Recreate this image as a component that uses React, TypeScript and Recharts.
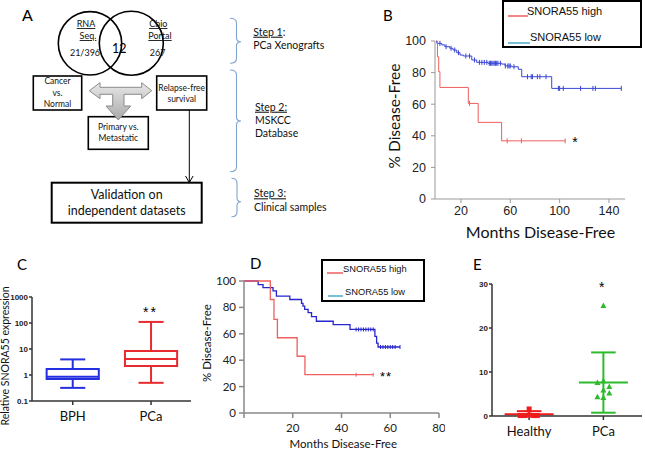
import {
  ComposedChart,
  Line,
  Scatter,
  XAxis,
  YAxis,
  ReferenceLine,
  ReferenceArea,
  Legend,
} from 'recharts';

const LATO = 'Lato, "Open Sans", sans-serif';
const ARIAL = '"Liberation Sans", Arial, sans-serif';

// ---- panel B: MSKCC database, % disease-free by months
const bHigh = [
  { t: 0, v: 100 }, { t: 1, v: 90 }, { t: 2, v: 80.6 }, { t: 3, v: 70.6 },
  { t: 26, v: 60.5 }, { t: 34, v: 48.5 }, { t: 53, v: 36.8 }, { t: 104.5, v: 36.8 },
];
const bHighCensor = [
  { t: 27, v: 60.5 }, { t: 57.5, v: 36.8 }, { t: 69, v: 36.8 }, { t: 104.5, v: 36.8 },
];
const bLow = [
  { t: 0, v: 100 }, { t: 0.5, v: 98.5 }, { t: 4.5, v: 97.5 }, { t: 7, v: 96.4 },
  { t: 11, v: 95.4 }, { t: 13.6, v: 94.3 }, { t: 16.6, v: 92.6 }, { t: 19.3, v: 91.1 },
  { t: 22, v: 90.5 }, { t: 28.8, v: 88 }, { t: 32.8, v: 86.5 }, { t: 42, v: 85.9 },
  { t: 53, v: 85.4 }, { t: 55.8, v: 84.2 }, { t: 61.2, v: 83.7 }, { t: 66.5, v: 82.1 },
  { t: 69.3, v: 77.4 }, { t: 93.6, v: 70 }, { t: 150, v: 70 },
];
const bLowCensor = [
  { t: 3, v: 98.5 }, { t: 8, v: 96.4 }, { t: 12, v: 95.4 }, { t: 15, v: 94.3 },
  { t: 18, v: 92.6 }, { t: 24, v: 90.5 }, { t: 27, v: 90.5 }, { t: 31, v: 88 },
  { t: 35, v: 86.5 }, { t: 37, v: 86.5 }, { t: 39, v: 86.5 }, { t: 41, v: 86.5 },
  { t: 43, v: 85.9 }, { t: 44, v: 85.9 }, { t: 45, v: 85.9 }, { t: 46, v: 85.9 },
  { t: 47, v: 85.9 }, { t: 48, v: 85.9 }, { t: 49, v: 85.9 }, { t: 50, v: 85.9 },
  { t: 52, v: 85.9 }, { t: 56, v: 84.2 }, { t: 58, v: 84.2 }, { t: 59, v: 84.2 },
  { t: 60, v: 84.2 }, { t: 63, v: 83.7 }, { t: 74, v: 77.4 }, { t: 77, v: 77.4 },
  { t: 78, v: 77.4 }, { t: 82, v: 77.4 }, { t: 84, v: 77.4 }, { t: 89, v: 77.4 },
  { t: 99, v: 70 }, { t: 100, v: 70 }, { t: 103, v: 70 }, { t: 117, v: 70 },
  { t: 127, v: 70 }, { t: 129, v: 70 }, { t: 150, v: 70 },
];
const bTicksX = [20, 60, 100, 140];

// ---- panel D: clinical samples
const dHigh = [
  { t: 0, v: 100 }, { t: 10.8, v: 86 }, { t: 12.3, v: 71 }, { t: 13.7, v: 57 },
  { t: 21.8, v: 43 }, { t: 25, v: 29 }, { t: 53, v: 29 },
];
const dHighCensor = [{ t: 46, v: 29 }, { t: 53, v: 29 }];
const dLow = [
  { t: 0, v: 100 }, { t: 5.8, v: 97.3 }, { t: 7.8, v: 95 }, { t: 11.9, v: 92.5 },
  { t: 13.3, v: 88.5 }, { t: 18.8, v: 86 }, { t: 23.6, v: 83 }, { t: 24.2, v: 81 },
  { t: 24.9, v: 78.5 }, { t: 26.3, v: 76 }, { t: 27.7, v: 73 }, { t: 29.7, v: 69.5 },
  { t: 36.6, v: 67 }, { t: 43.5, v: 63.3 }, { t: 53.7, v: 58 }, { t: 54.4, v: 53 },
  { t: 55, v: 50 }, { t: 64, v: 50 },
];
const dLowCensor = [
  { t: 46, v: 63.3 }, { t: 47, v: 63.3 }, { t: 48, v: 63.3 }, { t: 49, v: 63.3 },
  { t: 50, v: 63.3 }, { t: 51, v: 63.3 }, { t: 52, v: 63.3 }, { t: 53, v: 63.3 },
  { t: 56, v: 50 }, { t: 57, v: 50 }, { t: 58, v: 50 }, { t: 59, v: 50 },
  { t: 60, v: 50 }, { t: 61, v: 50 }, { t: 62, v: 50 }, { t: 64, v: 50 },
];
const dTicksX = [0, 20, 40, 60, 80];
const survTicksY = [0, 20, 40, 60, 80, 100];

// ---- panel C: relative SNORA55 expression (box & whiskers, log scale)
const cGroups = ['BPH', 'PCa'];
const cMin = [0.32, 0.5];
const cQ1 = [0.7, 2.2];
const cMedian = [0.86, 4.1];
const cQ3 = [1.69, 8.3];
const cMax = [3.98, 110];
const cTicksY = [0.1, 1, 10, 100, 1000];

// ---- panel E: healthy vs PCa, mean ± SD
const eGroups = ['Healthy', 'PCa'];
const eHealthy = [0.1, 0.1, 0.2, 0.1, 0.1, 1.6];
const ePCa = [25.1, 7.6, 8.0, 6.7, 5.9, 5.2, 4.4, 4.2];
const eMean = [0.4, 7.6];
const eSD = [0.7, 6.85];
const eTicksY = [0, 10, 20, 30];

// horizontal scatter offsets for the dot plot (layout only)
const jitterHealthy = [-0.12, -0.06, 0, 0.06, 0.11, 0];
const jitterPCa = [0, -0.08, 0, 0.08, 0, 0.08, -0.08, 0];

const RED_KM = '#ef5f5f';
const BLUE_KM = '#3a46d6';
const CYAN = '#4bacc6';

const censorMark = (color: string, h: number) => (p: any) => (
  <line x1={p.cx} x2={p.cx} y1={p.cy - h} y2={p.cy + h} stroke={color} strokeWidth={1} />
);

// boxed legend with a short coloured line before each label
const KmLegend = ({ fs, w, h, rows }: any) => (
  <div
    style={{
      width: w,
      height: h,
      border: '2px solid #000',
      boxSizing: 'border-box',
      background: '#fff',
      position: 'relative',
      fontFamily: ARIAL,
      fontSize: fs,
      color: '#111',
    }}
  >
    <svg width={w - 4} height={h - 4} style={{ position: 'absolute', left: 0, top: 0 }}>
      {rows.map((r: any) => (
        <line key={r.label} x1={r.lx} x2={r.lx + r.lw} y1={r.ly} y2={r.ly} stroke={r.color} strokeWidth={1.5} />
      ))}
    </svg>
    {rows.map((r: any) => (
      <div key={r.label} style={{ position: 'absolute', left: r.tx, top: r.ty, lineHeight: 1, whiteSpace: 'nowrap' }}>
        {r.label}
      </div>
    ))}
  </div>
);

const PanelB = () => (
  <div style={{ position: 'absolute', left: 380, top: 0 }}>
    <ComposedChart width={265} height={245} margin={{ top: 41, right: 20, bottom: 0, left: 0 }}>
      <XAxis
        type="number"
        dataKey="t"
        domain={[-1, 153]}
        ticks={bTicksX}
        height={46}
        stroke="#999"
        tickSize={4}
        tickMargin={3}
        tick={{ fontSize: 12.5, fill: '#222', fontFamily: ARIAL }}
        allowDataOverflow
      />
      <YAxis
        type="number"
        dataKey="v"
        domain={[0, 100]}
        ticks={survTicksY}
        width={55}
        stroke="#999"
        tickSize={4}
        tickMargin={5}
        tick={{ fontSize: 12.5, fill: '#222', fontFamily: ARIAL }}
      />
      <Line data={bLow} dataKey="v" type="stepAfter" stroke={BLUE_KM} strokeWidth={1} dot={false} isAnimationActive={false} />
      <Scatter data={bLowCensor} shape={censorMark(BLUE_KM, 2.5)} isAnimationActive={false} />
      <Line data={bHigh} dataKey="v" type="stepAfter" stroke={RED_KM} strokeWidth={1} dot={false} isAnimationActive={false} />
      <Scatter data={bHighCensor} shape={censorMark(RED_KM, 2.5)} isAnimationActive={false} />
      <Legend
        layout="vertical"
        align="center"
        verticalAlign="middle"
        wrapperStyle={{ left: 122, top: 0, width: 140, height: 48 }}
        content={() => (
          <KmLegend
            fs={11}
            w={140}
            h={48}
            rows={[
              { label: 'SNORA55 high', color: RED_KM, lx: 4, ly: 14, lw: 20, tx: 23, ty: 4 },
              { label: 'SNORA55 low', color: CYAN, lx: 4, ly: 41, lw: 22, tx: 26, ty: 30 },
            ]}
          />
        )}
      />
    </ComposedChart>
  </div>
);

const PanelD = () => (
  <div style={{ position: 'absolute', left: 190, top: 240 }}>
    <ComposedChart width={255} height={213} margin={{ top: 41, right: 6, bottom: 0, left: 0 }}>
      <XAxis
        type="number"
        dataKey="t"
        domain={[0, 80]}
        ticks={dTicksX}
        height={40}
        stroke="#888"
        strokeWidth={1.5}
        tickSize={5}
        tickMargin={6}
        tickFormatter={(v) => (v === 0 ? '' : String(v))}
        tick={{ fontSize: 11.5, fill: '#222', fontFamily: LATO }}
      />
      <YAxis
        type="number"
        dataKey="v"
        domain={[0, 100]}
        ticks={survTicksY}
        width={54}
        stroke="#888"
        strokeWidth={1.5}
        tickSize={5}
        tickMargin={3}
        tick={{ fontSize: 11.5, fill: '#222', fontFamily: LATO }}
      />
      <Line data={dLow} dataKey="v" type="stepAfter" stroke="#2626cc" strokeWidth={1.3} dot={false} isAnimationActive={false} />
      <Scatter data={dLowCensor} shape={censorMark('#2626cc', 2)} isAnimationActive={false} />
      <Line data={dHigh} dataKey="v" type="stepAfter" stroke={RED_KM} strokeWidth={1.3} dot={false} isAnimationActive={false} />
      <Scatter data={dHighCensor} shape={censorMark(RED_KM, 2)} isAnimationActive={false} />
      <Legend
        layout="vertical"
        align="center"
        verticalAlign="middle"
        wrapperStyle={{ left: 131, top: 19, width: 104, height: 43 }}
        content={() => (
          <KmLegend
            fs={9.3}
            w={104}
            h={43}
            rows={[
              { label: 'SNORA55 high', color: RED_KM, lx: 4, ly: 12, lw: 16, tx: 20, ty: 4 },
              { label: 'SNORA55 low', color: CYAN, lx: 5, ly: 35, lw: 15, tx: 22, ty: 27 },
            ]}
          />
        )}
      />
    </ComposedChart>
  </div>
);

const cHalfBox = 0.333;
const cHalfCap = 0.16;
const cColors = ['#2430e0', '#e62a2e'];

const PanelC = () => (
  <div style={{ position: 'absolute', left: 0, top: 240 }}>
    <ComposedChart width={200} height={213} margin={{ top: 57, right: 9, bottom: 0, left: 0 }}>
      <XAxis
        type="number"
        dataKey="x"
        domain={[0.48, 2.51]}
        ticks={[1, 2]}
        tickFormatter={(v) => cGroups[v - 1]}
        height={52}
        stroke="#333"
        strokeWidth={1.5}
        tickSize={4}
        tickMargin={7}
        tick={{ fontSize: 13, fill: '#111', fontFamily: LATO }}
        allowDataOverflow
      />
      <YAxis
        type="number"
        dataKey="y"
        scale="log"
        domain={[0.1, 1000]}
        ticks={cTicksY}
        width={32}
        stroke="#333"
        strokeWidth={1.5}
        tickSize={3}
        tickMargin={1}
        tick={{ fontSize: 8, fill: '#222', fontFamily: ARIAL, fontWeight: 700 }}
        allowDataOverflow
      />
      <Scatter
        data={cMedian.map((m, i) => ({ x: i + 1, y: m }))}
        shape={() => <g />}
        isAnimationActive={false}
      />
      {cGroups.map((g, i) => {
        const x = i + 1;
        const col = cColors[i];
        return [
          <ReferenceArea
            key={g + 'box'}
            x1={x - cHalfBox}
            x2={x + cHalfBox}
            y1={cQ1[i]}
            y2={cQ3[i]}
            fill="none"
            fillOpacity={0}
            stroke={col}
            strokeWidth={2}
          />,
          <ReferenceLine key={g + 'med'} segment={[{ x: x - cHalfBox, y: cMedian[i] }, { x: x + cHalfBox, y: cMedian[i] }]} stroke={col} strokeWidth={2} />,
          <ReferenceLine key={g + 'up'} segment={[{ x, y: cQ3[i] }, { x, y: cMax[i] }]} stroke={col} strokeWidth={2} />,
          <ReferenceLine key={g + 'dn'} segment={[{ x, y: cMin[i] }, { x, y: cQ1[i] }]} stroke={col} strokeWidth={2} />,
          <ReferenceLine key={g + 'capU'} segment={[{ x: x - cHalfCap, y: cMax[i] }, { x: x + cHalfCap, y: cMax[i] }]} stroke={col} strokeWidth={2} />,
          <ReferenceLine key={g + 'capD'} segment={[{ x: x - cHalfCap, y: cMin[i] }, { x: x + cHalfCap, y: cMin[i] }]} stroke={col} strokeWidth={2} />,
        ];
      })}
    </ComposedChart>
  </div>
);

const eColors = ['#ee1c1c', '#2dbb2d'];
const eHalfMean = 0.33;
const eHalfCap = 0.165;

const square = (p: any) => (
  <rect x={p.cx - 2.5} y={p.cy - 2.5} width={5} height={5} fill={eColors[0]} />
);
const triangle = (p: any) => (
  <polygon points={`${p.cx},${p.cy - 3} ${p.cx + 3},${p.cy + 2.5} ${p.cx - 3},${p.cy + 2.5}`} fill={eColors[1]} />
);

const PanelE = () => {
  const healthyPts = eHealthy.map((v, i) => ({ x: 1 + jitterHealthy[i], y: v }));
  const pcaPts = ePCa.map((v, i) => ({ x: 2 + jitterPCa[i], y: v }));
  return (
    <div style={{ position: 'absolute', left: 445, top: 240 }}>
      <ComposedChart width={200} height={213} margin={{ top: 44, right: 3, bottom: 0, left: 0 }}>
        <XAxis
          type="number"
          dataKey="x"
          domain={[0.5, 2.52]}
          ticks={[1, 2]}
          tickFormatter={(v) => eGroups[v - 1]}
          height={37}
          stroke="#333"
          strokeWidth={1.5}
          tickSize={4}
          tickMargin={7}
          tick={{ fontSize: 13, fill: '#111', fontFamily: LATO }}
        />
        <YAxis
          type="number"
          dataKey="y"
          domain={[0, 30]}
          ticks={eTicksY}
          width={47}
          stroke="#333"
          strokeWidth={1.5}
          tickSize={3}
          tickMargin={1}
          tick={{ fontSize: 8, fill: '#222', fontFamily: ARIAL, fontWeight: 700 }}
        />
        {eGroups.map((g, i) => {
          const x = i + 1;
          const col = eColors[i];
          const lo = eMean[i] - eSD[i];
          const hi = eMean[i] + eSD[i];
          const items = [
            <ReferenceLine key={g + 'mean'} segment={[{ x: x - eHalfMean, y: eMean[i] }, { x: x + eHalfMean, y: eMean[i] }]} stroke={col} strokeWidth={2} />,
            <ReferenceLine key={g + 'sd'} segment={[{ x, y: Math.max(0, lo) }, { x, y: hi }]} stroke={col} strokeWidth={2} />,
            <ReferenceLine key={g + 'capU'} segment={[{ x: x - eHalfCap, y: hi }, { x: x + eHalfCap, y: hi }]} stroke={col} strokeWidth={2} />,
          ];
          if (lo >= 0) {
            items.push(
              <ReferenceLine key={g + 'capD'} segment={[{ x: x - eHalfCap, y: lo }, { x: x + eHalfCap, y: lo }]} stroke={col} strokeWidth={2} />,
            );
          }
          return items;
        })}
        <Scatter data={healthyPts} shape={square} isAnimationActive={false} />
        <Scatter data={pcaPts} shape={triangle} isAnimationActive={false} />
      </ComposedChart>
    </div>
  );
};

const BRACE = '#7fa3cf';
const brace = (x: number, xv: number, xt: number, y1: number, y2: number, yt: number) =>
  `M${x},${y1} Q${xv},${y1} ${xv},${y1 + 5} L${xv},${yt - 4} Q${xv},${yt} ${xt},${yt} Q${xv},${yt} ${xv},${yt + 4} L${xv},${y2 - 5} Q${xv},${y2} ${x},${y2}`;

const Overlay = () => (
  <svg
    width={645}
    height={453}
    style={{ position: 'absolute', left: 0, top: 0, pointerEvents: 'none' }}
    fontFamily={LATO}
  >
    <defs>
      <linearGradient id="grayArrow" x1="0" y1="0" x2="0" y2="1">
        <stop offset="0" stopColor="#e8e8e8" />
        <stop offset="1" stopColor="#a9a9a9" />
      </linearGradient>
    </defs>

    {/* panel A */}
    <text x={22} y={21} fontSize={16}>A</text>
    <circle cx={90} cy={43.3} r={31.7} fill="none" stroke="#000" strokeWidth={1.6} />
    <circle cx={131.3} cy={43.3} r={32} fill="none" stroke="#000" strokeWidth={1.6} />
    <g fontSize={9} textAnchor="middle" fill="#111">
      <text x={86} y={27} style={{ textDecoration: 'underline' }}>RNA</text>
      <text x={88} y={39} style={{ textDecoration: 'underline' }}>Seq.</text>
      <text x={85} y={56}>21/396</text>
      <text x={158.3} y={27} style={{ textDecoration: 'underline' }}>Cbio</text>
      <text x={160} y={39} style={{ textDecoration: 'underline' }}>Portal</text>
      <text x={157.7} y={56}>267</text>
    </g>
    <text x={119.3} y={53} fontSize={12.5} textAnchor="middle">12</text>

    <rect x={33.3} y={76} width={48.4} height={34} fill="#fff" stroke="#000" strokeWidth={1.6} />
    <rect x={156.7} y={76} width={50} height={34} fill="#fff" stroke="#000" strokeWidth={1.6} />
    <rect x={88.3} y={116.7} width={60} height={32.6} fill="#fff" stroke="#000" strokeWidth={1.6} />
    <rect x={51.7} y={182.7} width={150} height={40} fill="#fff" stroke="#000" strokeWidth={2} />
    <g fontSize={8.5} textAnchor="middle" fill="#111">
      <text x={57.5} y={84.3}>Cancer</text>
      <text x={57.5} y={96}>vs.</text>
      <text x={57.5} y={107.3}>Normal</text>
      <text x={181.7} y={90.7}>Relapse-free</text>
      <text x={181.7} y={101.7}>survival</text>
      <text x={118.3} y={130}>Primary vs.</text>
      <text x={118.3} y={140.7}>Metastatic</text>
    </g>
    <g fontSize={12.5} textAnchor="middle" fill="#111">
      <text x={126.7} y={199}>Validation on</text>
      <text x={126.7} y={215}>independent datasets</text>
    </g>
    <path
      d="M89.3,90.7 L100,82.7 L100,87.3 L141.7,87.3 L141.7,82.7 L151.7,90.7 L141.7,98.7 L141.7,94.3 L124,94.3 L124,106 L130.7,106 L118.3,120 L106,106 L112.7,106 L112.7,94.3 L100,94.3 L100,98.7 Z"
      fill="url(#grayArrow)"
      stroke="#8a8a8a"
      strokeWidth={1}
    />
    <line x1={189.3} y1={110} x2={189.3} y2={182} stroke="#000" strokeWidth={1} />
    <path d="M185.5,176 L189.3,182.5 L193.1,176" fill="none" stroke="#000" strokeWidth={1} />

    <g fill="none" stroke={BRACE} strokeWidth={1.1}>
      <path d={brace(230, 236.5, 241, 18.3, 63.3, 41.7)} />
      <path d={brace(230, 236.5, 241, 70, 171.7, 121)} />
      <path d={brace(231.5, 237, 241, 178.3, 216.7, 201.7)} />
    </g>
    <g fontSize={10.5} fill="#111">
      <text x={253.3} y={35.7}><tspan style={{ textDecoration: 'underline' }}>Step 1</tspan>:</text>
      <text x={253.3} y={49.3}>PCa Xenografts</text>
      <text x={255} y={110.7} style={{ textDecoration: 'underline' }}>Step 2:</text>
      <text x={255} y={124}>MSKCC</text>
      <text x={255} y={137.3}>Database</text>
      <text x={254} y={197.3} style={{ textDecoration: 'underline' }}>Step 3:</text>
      <text x={254} y={210.7}>Clinical samples</text>
    </g>

    {/* panel B */}
    <text x={383} y={21} fontSize={15}>B</text>
    <text transform="translate(400,116) rotate(-90)" textAnchor="middle" fontSize={15.5} fill="#111">% Disease-Free</text>
    <text x={540.5} y={238} textAnchor="middle" fontSize={16} fill="#111">Months Disease-Free</text>
    <text x={575} y={147} textAnchor="middle" fontSize={14} fontFamily={ARIAL}>*</text>

    {/* panel C */}
    <text x={17} y={270} fontSize={15}>C</text>
    <text transform="translate(9,356) rotate(-90)" textAnchor="middle" fontSize={10.5} fill="#111">Relative SNORA55 expression</text>
    <text x={150.5} y={317} textAnchor="middle" fontSize={14} fontFamily={ARIAL} letterSpacing={2}>**</text>

    {/* panel D */}
    <text x={250} y={269} fontSize={15}>D</text>
    <text transform="translate(211,343) rotate(-90)" textAnchor="middle" fontSize={11.5} fill="#111">% Disease-Free</text>
    <text x={343.3} y={448} textAnchor="middle" fontSize={11.5} fill="#111">Months Disease-Free</text>
    <text x={386} y={381} textAnchor="middle" fontSize={13} fontFamily={ARIAL} letterSpacing={1}>**</text>

    {/* panel E */}
    <text x={473} y={270} fontSize={15}>E</text>
    <text x={601.7} y={292} textAnchor="middle" fontSize={14} fontFamily={ARIAL}>*</text>
  </svg>
);

const App = () => (
  <div
    style={{
      position: 'absolute',
      left: 0,
      top: 0,
      width: 645,
      height: 453,
      background: '#fff',
      overflow: 'hidden',
      fontFamily: LATO,
    }}
  >
    <PanelC />
    <PanelD />
    <PanelE />
    <PanelB />
    <Overlay />
  </div>
);

export default App;
